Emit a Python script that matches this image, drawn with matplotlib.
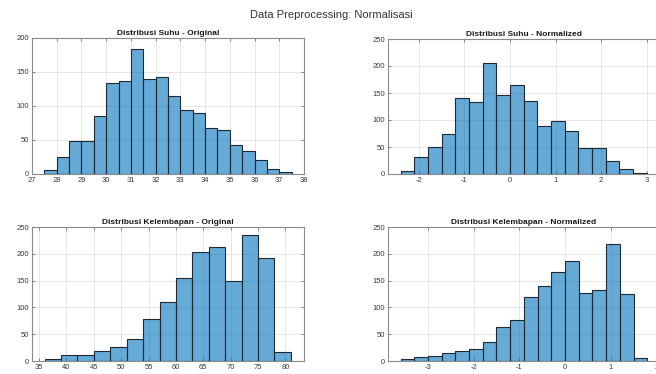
import numpy as np
import matplotlib
matplotlib.use("Agg")
import matplotlib.pyplot as plt

plt.rcParams['font.family'] = ['Liberation Sans', 'DejaVu Sans']

# Suhu (original): bins of width 0.5 from 27.5
suhu_orig_edges = np.arange(27.5, 37.5 + 0.01, 0.5)
suhu_orig_counts = [6, 25, 49, 49, 85, 134, 137, 184, 140, 142,
                    115, 94, 89, 67, 64, 43, 34, 20, 7, 3]

# Suhu (normalized): bins of width 0.3 from -2.4
suhu_norm_edges = np.round(np.arange(-2.4, 3.0 + 0.01, 0.3), 2)
suhu_norm_counts = [6, 32, 50, 74, 140, 134, 205, 147, 165, 136,
                    88, 99, 79, 48, 48, 25, 9, 2]

# Kelembapan (original): bins of width 3 from 36
kel_orig_edges = np.arange(36, 81 + 0.01, 3)
kel_orig_counts = [3, 11, 11, 19, 27, 41, 78, 110, 155, 203,
                   212, 149, 236, 192, 17]

# Kelembapan (normalized): bins of width 0.3 from -3.6
kel_norm_edges = np.round(np.arange(-3.6, 1.8 + 0.01, 0.3), 2)
kel_norm_counts = [4, 7, 9, 15, 18, 22, 35, 63, 76, 120,
                   140, 166, 187, 127, 132, 218, 125, 6]

titles = ["Distribusi Suhu - Original", "Distribusi Suhu - Normalized",
          "Distribusi Kelembapan - Original", "Distribusi Kelembapan - Normalized"]

W, H = 656, 374
fig = plt.figure(figsize=(W / 100, H / 100), dpi=100)
fig.patch.set_facecolor('white')

def px_axes(left, top, right, bottom):
    return fig.add_axes([left / W, (H - bottom) / H, (right - left) / W, (bottom - top) / H])

face = (0.0, 0.447, 0.741, 0.6)
edge = (0.12, 0.16, 0.2)
axis_col = '#5a5a5a'
text_col = '#3a3a3a'

panels = [
    (px_axes(32, 38, 304, 174), suhu_orig_edges, suhu_orig_counts, (27, 38), np.arange(27, 39, 1), (0, 200), np.arange(0, 201, 50)),
    (px_axes(388, 39, 660, 174), suhu_norm_edges, suhu_norm_counts, (-2.675, 3.29), np.arange(-2, 4, 1), (0, 250), np.arange(0, 251, 50)),
    (px_axes(32, 227, 304, 361), kel_orig_edges, kel_orig_counts, (33.7, 83.4), np.arange(35, 81, 5), (0, 250), np.arange(0, 251, 50)),
    (px_axes(388, 227, 660, 361), kel_norm_edges, kel_norm_counts, (-3.875, 2.08), np.arange(-3, 3, 1), (0, 250), np.arange(0, 251, 50)),
]

for (ax, edges, counts, xl, xt, yl, yt), title in zip(panels, titles):
    edges = np.asarray(edges, dtype=float)
    ax.bar(edges[:-1], counts, width=np.diff(edges), align='edge',
           color=face, edgecolor=edge, linewidth=0.8, zorder=3)
    ax.set_xlim(*xl)
    ax.set_ylim(*yl)
    ax.set_xticks(xt)
    ax.set_yticks(yt)
    ax.set_xticklabels([f"{v:g}" for v in xt])
    ax.grid(True, color='#e3e3e3', linewidth=0.6, zorder=0)
    ax.set_axisbelow(True)
    ax.tick_params(direction='in', length=2, width=0.5, colors=axis_col,
                   labelcolor=text_col, labelsize=5.5, pad=2,
                   top=True, right=True)
    for s in ax.spines.values():
        s.set_color('#8a8a8a')
        s.set_linewidth(0.8)
    ax.set_title(title, fontsize=6, fontweight='bold', color='#1a1a1a', pad=2)

fig.text(331 / W, 1 - 15 / H, "Data Preprocessing: Normalisasi",
         ha='center', va='center', fontsize=8, color='#333333')

fig.savefig("out.png", dpi=100, facecolor='white')
